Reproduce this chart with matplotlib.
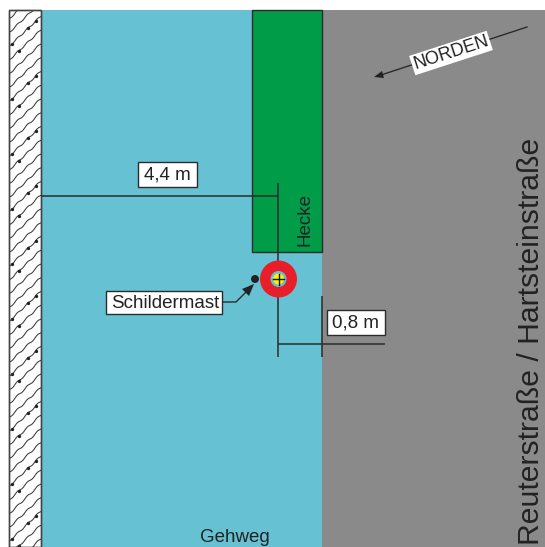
import numpy as np
import matplotlib
matplotlib.use("Agg")
import matplotlib.pyplot as plt
from matplotlib.patches import Rectangle, Circle, Polygon

plt.rcParams["font.family"] = ["Liberation Sans", "DejaVu Sans"]

# flaechen im plan: x0, x1, y0, y1 (pixel des plans)
wand = [9, 41, 10, 547]
gehweg = [41, 322, 10, 547]
strasse = [322, 545, 10, 547]
hecke = [252, 322, 10, 252]

mast = (278.5, 279)
mast_radien = [18.5, 8, 5.5]
mast_farben = ["#e81f2b", "#66c2d3", "#fff200"]
punkt = (255, 279)

# massketten
linien = [
    ([41, 278], [196, 196]),
    ([278, 278], [183, 265]),
    ([278, 278], [293, 357]),
    ([322, 322], [296, 357]),
    ([278, 385], [344, 344]),
]
labels = ["4,4 m", "0,8 m", "Schildermast"]
label_pos = [(167.5, 175), (356, 323), (165, 303)]
label_box = [(138, 162, 59, 25), (327, 310, 58, 25), (106, 291, 116, 23)]

# schraffur der mauer: abstand der linien und punkte je 4 linien
schraffur_abstand = 13.75
punkte_x = {0: [12, 28, 36], 1: [19]}

DUNKEL = "#2b2b2b"
fig = plt.figure(figsize=(5.45, 5.47), dpi=100)
ax = fig.add_axes([0, 0, 1, 1])
ax.set_xlim(0, 545)
ax.set_ylim(547, 0)
ax.axis("off")


def flaeche(f, farbe, **kw):
    ax.add_patch(Rectangle((f[0], f[2]), f[1] - f[0], f[3] - f[2], facecolor=farbe, edgecolor="none", **kw))


flaeche(gehweg, "#66c2d3")
flaeche(strasse, "#8a8a8a")
ax.add_patch(Rectangle((hecke[0], hecke[2]), hecke[1] - hecke[0], hecke[3] - hecke[2],
                       facecolor="#009c47", edgecolor=DUNKEL, lw=1.0, zorder=2))

# mauerwerk: schraffur mit welligen linien und punkten
rand = Rectangle((wand[0], wand[2]), wand[1] - wand[0], wand[3] - wand[2],
                 facecolor="white", edgecolor="#444444", lw=1.0, zorder=2)
ax.add_patch(rand)
x = np.linspace(wand[0], wand[1], 80)
for i, s in enumerate(np.arange(0, 620, schraffur_abstand)):
    y = s - 0.95 * x + 0.8 * np.sin(x * 0.63)
    ln, = ax.plot(x, y, color="#3a3a3a", lw=0.75, zorder=3)
    ln.set_clip_path(rand)
    for mx in punkte_x.get(i % 4, []):
        pt, = ax.plot(mx, s - 0.95 * mx, "o", ms=2.4, mew=0, color="#222222", zorder=3)
        pt.set_clip_path(rand)
ax.add_patch(Rectangle((wand[0], wand[2]), wand[1] - wand[0], wand[3] - wand[2],
                       facecolor="none", edgecolor="#444444", lw=1.0, zorder=4))

for xs, ys in linien:
    ax.plot(xs, ys, color=DUNKEL, lw=1.1, zorder=5, solid_capstyle="butt")

# mast
for r, c in zip(mast_radien, mast_farben):
    ax.add_patch(Circle(mast, r, facecolor=c, edgecolor="none", zorder=6))
ax.plot([mast[0] - 5.5, mast[0] + 5.5], [mast[1], mast[1]], color="#111111", lw=1.0, zorder=7)
ax.plot([mast[0], mast[0]], [mast[1] - 5.5, mast[1] + 5.5], color="#111111", lw=1.0, zorder=7)
ax.add_patch(Circle(punkt, 4, facecolor="#222222", edgecolor="none", zorder=6))

# pfeil schildermast
ax.plot([222, 236, 247], [302, 302, 291], color=DUNKEL, lw=1.0, zorder=5)
ax.add_patch(Polygon([(254, 284), (242, 289), (249, 296)], facecolor="#222222", edgecolor="none", zorder=6))

# nordpfeil
ax.plot([527, 381], [27, 75], color=DUNKEL, lw=1.0, zorder=5)
ax.add_patch(Polygon([(374, 77), (382, 71), (384, 78)], facecolor="#222222", edgecolor="none", zorder=6))

for txt, pos, box in zip(labels, label_pos, label_box):
    ax.add_patch(Rectangle((box[0], box[1]), box[2], box[3], facecolor="white", edgecolor=DUNKEL, lw=1.0, zorder=8))
    ax.text(pos[0], pos[1], txt, ha="center", va="center", fontsize=13.5, color="#222222", zorder=9)

ax.text(451, 53, "NORDEN", rotation=18, rotation_mode="anchor", ha="center", va="center",
        fontsize=13, color="#222222", zorder=9,
        bbox=dict(facecolor="white", edgecolor="none", pad=1.2))
ax.text(305, 220, "Hecke", rotation=90, ha="center", va="center", fontsize=13.5, color="#222222", zorder=9)
ax.text(234.5, 537, "Gehweg", ha="center", va="center", fontsize=13.5, color="#222222", zorder=9)
ax.text(539, 341, "Reuterstraße / Hartsteinstraße", rotation=90, rotation_mode="anchor",
        ha="center", va="baseline", fontsize=21.7, color="#222222", zorder=9)

fig.savefig("out.png", dpi=100)
